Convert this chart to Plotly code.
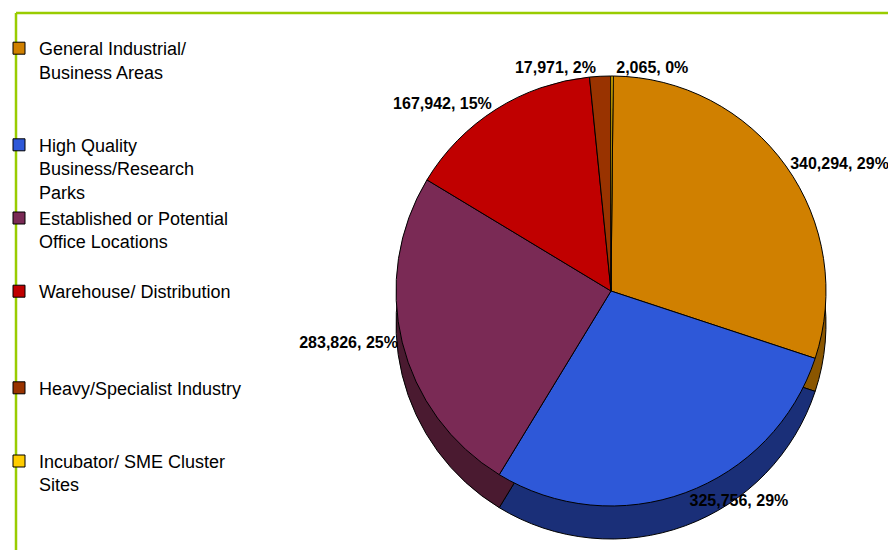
import plotly.graph_objects as go

categories = [
    "General Industrial/<br>Business Areas",
    "High Quality<br>Business/Research<br>Parks",
    "Established or Potential<br>Office Locations",
    "Warehouse/ Distribution",
    "Heavy/Specialist Industry",
    "Incubator/ SME Cluster<br>Sites",
]
spacer_lines = [2, 0, 1, 3, 2, 0]
values = [340294, 325756, 283826, 167942, 17971, 2065]
pct_labels = [29, 29, 25, 15, 2, 0]

top_colors = ["#d08000", "#2e58d8", "#7a2a55", "#c00000", "#993300", "#ffcc00"]
side_colors = ["#8a5600", "#1a2f78", "#4a1a30", "#700000", "#5a1e00", "#a08000"]

legend_names = [c + "<br>\u00a0" * n for c, n in zip(categories, spacer_lines)]

W, H = 896, 550
cx, cy, R, depth = 603, 283, 215, 33
rot = 0.6

def dom(cyy):
    return dict(x=[(cx - R) / W, (cx + R) / W],
                y=[1 - (cyy + R) / H, 1 - (cyy - R) / H])

fig = go.Figure()
# side (3D depth) layer
fig.add_trace(go.Pie(
    labels=legend_names, values=values, sort=False, direction="clockwise",
    rotation=rot, domain=dom(cy + depth), textinfo="none", hoverinfo="skip",
    marker=dict(colors=side_colors, line=dict(color="#000000", width=1)),
    showlegend=False,
))
# top face
fig.add_trace(go.Pie(
    labels=legend_names, values=values, customdata=pct_labels, sort=False,
    direction="clockwise", rotation=rot, domain=dom(cy),
    textposition="outside",
    texttemplate="%{value:,}, %{customdata}%",
    textfont=dict(family="Liberation Sans, Arial, sans-serif", size=16,
                  color="#000000", weight="bold"),
    marker=dict(colors=top_colors, line=dict(color="#000000", width=1)),
    showlegend=True,
))

fig.update_layout(
    width=W, height=H,
    margin=dict(l=0, r=0, t=0, b=0, autoexpand=False),
    paper_bgcolor="#ffffff",
    font=dict(family="Liberation Sans, Arial, sans-serif", color="#000000"),
    legend=dict(
        x=-9 / W, xanchor="left", y=1 - 22 / H, yanchor="top",
        font=dict(size=18, color="#000000"),
        valign="top", bgcolor="rgba(0,0,0,0)", itemwidth=30,
    ),
    shapes=[
        dict(type="line", xref="paper", yref="paper", x0=8 / W, x1=1.05,
             y0=1 - 5 / H, y1=1 - 5 / H, line=dict(color="#99cc00", width=2.5)),
        dict(type="line", xref="paper", yref="paper", x0=8 / W, x1=8 / W,
             y0=-0.05, y1=1 - 5 / H, line=dict(color="#99cc00", width=2.5)),
    ],
)

fig.write_html("out.html")
